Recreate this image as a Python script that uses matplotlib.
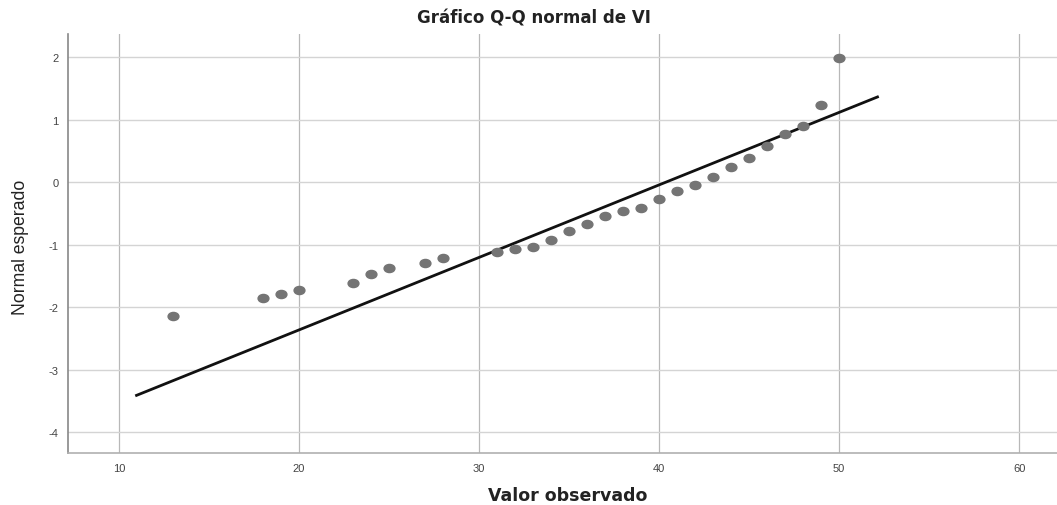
import matplotlib
matplotlib.use("Agg")
import matplotlib.pyplot as plt
import numpy as np
from matplotlib.path import Path
from matplotlib.transforms import Affine2D

obs = [13, 18, 19, 20, 23, 24, 25, 27, 28, 31, 32, 33, 34, 35, 36, 37, 38,
       39, 40, 41, 42, 43, 44, 45, 46, 47, 48, 49, 50]
expected = [-2.15, -1.86, -1.79, -1.73, -1.62, -1.47, -1.37, -1.29, -1.21,
            -1.12, -1.07, -1.04, -0.93, -0.78, -0.67, -0.54, -0.46, -0.41,
            -0.27, -0.14, -0.05, 0.08, 0.24, 0.39, 0.58, 0.77, 0.89, 1.23, 1.99]

# reference line end points
line_x = [10.9, 52.2]
line_y = [-3.42, 1.37]

x_ticks = [10, 20, 30, 40, 50, 60]
y_ticks = [-4, -3, -2, -1, 0, 1, 2]

plt.rcParams['font.family'] = ['Liberation Sans', 'DejaVu Sans']
plt.rcParams['axes.unicode_minus'] = False

fig = plt.figure(figsize=(10.57, 5.06), dpi=100)
ax = fig.add_axes([0.0646, 0.102, 0.9354, 0.829])

# slightly flattened dot like the SPSS marker
ell = Path.unit_circle().transformed(Affine2D().scale(1.0, 0.75))

ax.grid(axis='y', color='#d4d4d4', lw=1.0, zorder=0)
ax.grid(axis='x', color='#b8b8b8', lw=0.9, zorder=0)

ax.plot(line_x, line_y, color='#111111', lw=2.0, solid_capstyle='butt', zorder=2)
ax.plot(obs, expected, ls='none', marker=ell, ms=7.8, color='#747474',
        mec='#747474', zorder=3)

ax.set_xlim(7.18, 62.1)
ax.set_ylim(-4.34, 2.37)
ax.set_xticks(x_ticks)
ax.set_yticks(y_ticks)
ax.tick_params(length=0, labelsize=8, labelcolor='#444444', pad=7)

for s in ['top', 'right']:
    ax.spines[s].set_visible(False)
ax.spines['left'].set_color('#888888')
ax.spines['bottom'].set_color('#b0b0b0')
ax.spines['left'].set_linewidth(1.2)
ax.spines['bottom'].set_linewidth(1.2)

fig.text(0.505, 0.963, 'Gráfico Q-Q normal de VI', ha='center', va='center',
         fontsize=12, fontweight='bold', color='#222222', family='DejaVu Sans')
fig.text(0.537, 0.02, 'Valor observado', ha='center', va='center',
         fontsize=12.5, fontweight='bold', color='#222222', family='DejaVu Sans')
fig.text(0.019, 0.511, 'Normal esperado', ha='center', va='center',
         rotation=90, fontsize=12.7, color='#222222')

fig.savefig('out.png', dpi=100)
